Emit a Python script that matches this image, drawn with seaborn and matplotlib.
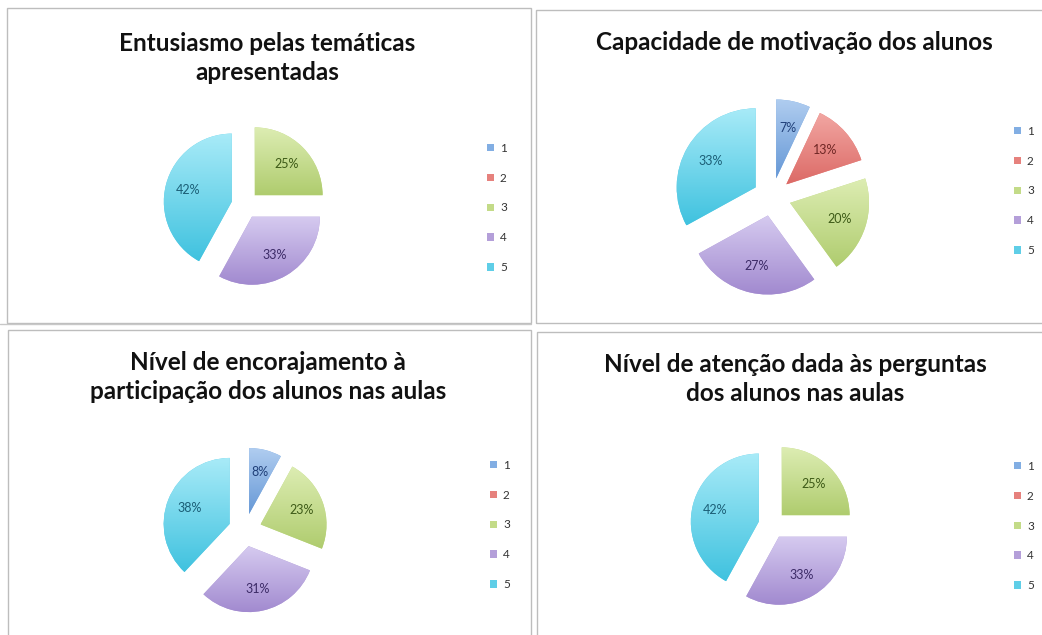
import numpy as np
import matplotlib
matplotlib.use("Agg")
import matplotlib.pyplot as plt
import seaborn as sns
from matplotlib.patches import Rectangle
from matplotlib.lines import Line2D
from matplotlib.colors import LinearSegmentedColormap

# ---------------- data ----------------
categories = ["1", "2", "3", "4", "5"]
entusiasmo = [0, 0, 25, 33, 42]
motivacao = [7, 13, 20, 27, 33]
encorajamento = [8, 0, 23, 31, 38]
atencao = [0, 0, 25, 33, 42]

title_entusiasmo = "Entusiasmo pelas temáticas\napresentadas"
title_motivacao = "Capacidade de motivação dos alunos"
title_encorajamento = "Nível de encorajamento à\nparticipação dos alunos nas aulas"
title_atencao = "Nível de atenção dada às perguntas\ndos alunos nas aulas"

# ---------------- style ----------------
sns.set_theme(style="white")
plt.rcParams["font.family"] = ["Lato", "DejaVu Sans"]

base_cols = sns.color_palette(["#82AEE3", "#E6817D", "#C3DB88", "#B49FD9", "#5FCEE7"])
top_cols = ["#B0CDF0", "#F2A7A3", "#DDEDB3", "#D6CBF0", "#A9EBF8"]
bot_cols = ["#6698D6", "#DC6A66", "#AFCC6E", "#A189CF", "#3FC2DF"]
txt_cols = ["#1F3F78", "#6E2624", "#3D5A17", "#3B2A66", "#1B5E76"]

W, H = 1042, 635
fig = plt.figure(figsize=(W / 100, H / 100), dpi=100)
fig.patch.set_facecolor("white")


def fx(x):
    return x / W


def fy(y):
    return 1 - y / H


# panel frames (pixel coords)
frames = [(7, 8, 531, 323), (536, 10, 1046, 323), (8, 330, 531, 640), (537, 332, 1046, 640)]
for x0, y0, x1, y1 in frames:
    fig.add_artist(Rectangle((fx(x0), fy(y1)), fx(x1) - fx(x0), fy(y0) - fy(y1),
                             transform=fig.transFigure, fill=False,
                             edgecolor="#BDBDBD", linewidth=1.0))
fig.add_artist(Line2D([fx(0), fx(531)], [fy(323.5), fy(323.5)], transform=fig.transFigure,
                      color="#C8C8C8", linewidth=1.0))

panels = [
    dict(values=entusiasmo, title=title_entusiasmo, cx=245, cy=205, r=68, ex=0.20,
         tx=267, ty=58, lx=487, ly=208),
    dict(values=motivacao, title=title_motivacao, cx=772, cy=197, r=79, ex=0.24,
         tx=794, ty=42, lx=1014, ly=191),
    dict(values=encorajamento, title=title_encorajamento, cx=245, cy=530, r=66, ex=0.25,
         tx=268, ty=377, lx=490, ly=525),
    dict(values=atencao, title=title_atencao, cx=772, cy=525, r=68, ex=0.20,
         tx=795, ty=379, lx=1014, ly=526),
]

for p in panels:
    half = 130
    ax = fig.add_axes([fx(p["cx"] - half), fy(p["cy"] + half), 2 * half / W, 2 * half / H])
    lim = half / p["r"]
    vals = p["values"]
    explode = [p["ex"] if v > 0 else 0 for v in vals]

    def fmt(pct):
        return "" if pct < 0.5 else "%d%%" % int(round(pct))

    wedges, texts, autotexts = ax.pie(
        vals, colors=base_cols, startangle=90, counterclock=False,
        explode=explode, autopct=fmt, pctdistance=0.66, radius=1.0,
        wedgeprops=dict(linewidth=0, edgecolor="none"))
    for i, (w, t) in enumerate(zip(wedges, autotexts)):
        t.set_color(txt_cols[i])
        t.set_fontsize(9)
        t.set_zorder(5)
        if vals[i] > 0:
            v = w.get_path().vertices
            x0, x1 = v[:, 0].min(), v[:, 0].max()
            y0, y1 = v[:, 1].min(), v[:, 1].max()
            cmap = LinearSegmentedColormap.from_list("g%d" % i, [top_cols[i], bot_cols[i]])
            grad = np.linspace(0, 1, 256)[:, None]
            im = ax.imshow(grad, extent=(x0, x1, y0, y1), origin="upper", cmap=cmap,
                           aspect="auto", zorder=2, interpolation="bilinear")
            im.set_clip_path(w)
    ax.set_xlim(-lim, lim)
    ax.set_ylim(-lim, lim)
    ax.set_aspect("equal")
    ax.axis("off")

    fig.text(fx(p["tx"]), fy(p["ty"]), p["title"], ha="center", va="center",
             fontsize=17.5, fontweight="bold", color="#111111", linespacing=1.35)

    handles = [Rectangle((0, 0), 1, 1, facecolor=c, edgecolor="none") for c in base_cols]
    fig.legend(handles, categories, loc="center left",
               bbox_to_anchor=(fx(p["lx"]), fy(p["ly"])), frameon=False,
               fontsize=8.5, labelcolor="#333333", handlelength=0.6, handleheight=0.6,
               handletextpad=0.5, labelspacing=1.6, borderpad=0, borderaxespad=0)

fig.savefig("out.png", dpi=100, facecolor="white")
